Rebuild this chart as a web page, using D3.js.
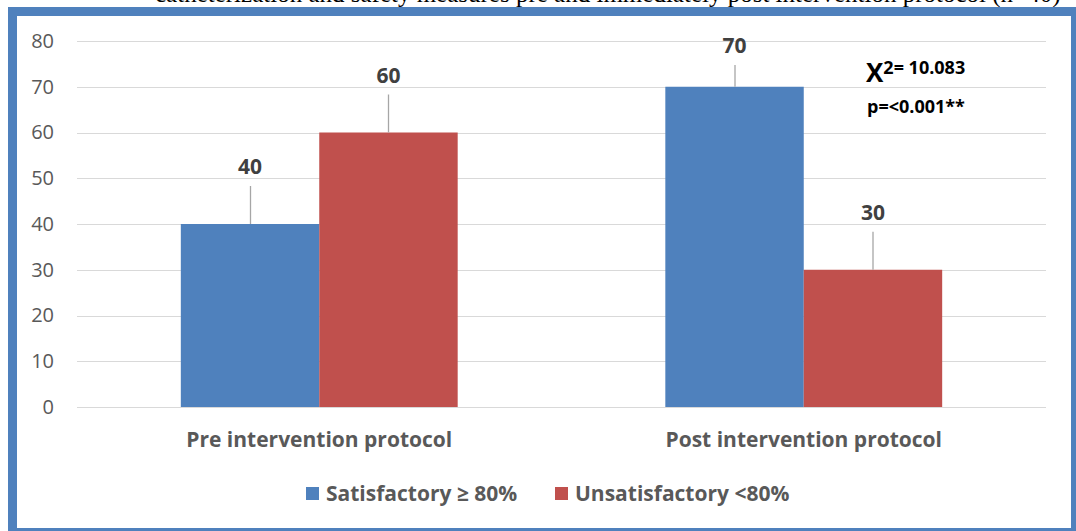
<!DOCTYPE html>
<html>
<head>
<meta charset="utf-8">
<script src="https://cdn.jsdelivr.net/npm/d3@7"></script>
<style>
  html, body { margin: 0; padding: 0; background: #fff; }
  svg { display: block; }
</style>
</head>
<body>
<svg id="chart" width="1076" height="531"></svg>
<script>
// Data
const categories = ["Pre intervention protocol", "Post intervention protocol"];
const seriesNames = ["Satisfactory \u2265 80%", "Unsatisfactory <80%"];
const satisfactory = [40, 70];
const unsatisfactory = [60, 30];
const yTicks = [0, 10, 20, 30, 40, 50, 60, 70, 80];
const captionText = "catheterization and safety measures pre and immediately post intervention protocol (n=40)";
const chiSquare = "2= 10.083";
const pValue = "p=<0.001**";

const colors = ["#4F81BD", "#C0504D"];
const font = "'Open Sans', 'Liberation Sans', sans-serif";

const rows = categories.map((c, i) => ({ category: c, values: [satisfactory[i], unsatisfactory[i]] }));

const svg = d3.select("#chart");

// Caption line running above the frame
svg.append("text")
  .attr("x", 155).attr("y", 2)
  .attr("font-family", "'Liberation Serif', 'Times New Roman', serif")
  .attr("font-size", 25)
  .attr("fill", "#000")
  .text(captionText);

// Blue frame
svg.append("rect")
  .attr("x", 12.5).attr("y", 11.5)
  .attr("width", 1063).attr("height", 521)
  .attr("fill", "#fff")
  .attr("stroke", "#4F81BD")
  .attr("stroke-width", 9);

// Scales
const x0 = d3.scaleBand().domain(categories).range([77, 1046]).paddingInner(0).paddingOuter(0);
const x1 = d3.scaleBand().domain(seriesNames).range([0, x0.bandwidth()]).paddingInner(0).paddingOuter(0.75);
const y = d3.scaleLinear().domain([0, 80]).range([407, 41]);

// Gridlines
svg.append("g").selectAll("line").data(yTicks).join("line")
  .attr("x1", 77).attr("x2", 1046)
  .attr("y1", d => Math.round(y(d)) + 0.5).attr("y2", d => Math.round(y(d)) + 0.5)
  .attr("stroke", "#D9D9D9").attr("stroke-width", 1);

// Y axis labels
const yAxis = d3.axisLeft(y).tickValues(yTicks).tickSize(0).tickPadding(0);
const gy = svg.append("g").attr("transform", "translate(54,0)").call(yAxis);
gy.select(".domain").remove();
gy.selectAll("text")
  .attr("font-family", font).attr("font-size", 20).attr("fill", "#595959");

// Bars
const groups = svg.append("g").selectAll("g").data(rows).join("g")
  .attr("transform", d => `translate(${x0(d.category)},0)`);

groups.selectAll("rect").data(d => d.values.map((v, i) => ({ key: seriesNames[i], value: v, i })))
  .join("rect")
  .attr("x", d => x1(d.key))
  .attr("width", x1.bandwidth())
  .attr("y", d => y(d.value))
  .attr("height", d => y(0) - y(d.value))
  .attr("fill", d => colors[d.i]);

// Leader lines and value labels; labels are kept inside the plot top
const labelBase = v => Math.max(y(v) - 50, y(80) + 12);
const labelGroups = groups.selectAll("g.lbl").data(d => d.values.map((v, i) => ({ key: seriesNames[i], value: v })))
  .join("g").attr("class", "lbl");

labelGroups.append("line")
  .attr("x1", d => Math.round(x1(d.key) + x1.bandwidth() / 2) + 0.5)
  .attr("x2", d => Math.round(x1(d.key) + x1.bandwidth() / 2) + 0.5)
  .attr("y1", d => y(d.value))
  .attr("y2", d => labelBase(d.value) + 12)
  .attr("stroke", "#A6A6A6").attr("stroke-width", 1.3);

labelGroups.append("text")
  .attr("x", d => x1(d.key) + x1.bandwidth() / 2)
  .attr("y", d => labelBase(d.value))
  .attr("text-anchor", "middle")
  .attr("font-family", font).attr("font-size", 21).attr("font-weight", "bold")
  .attr("fill", "#404040")
  .text(d => d.value);

// Category labels
const xAxis = d3.axisBottom(x0).tickSize(0).tickPadding(0);
const gx = svg.append("g").attr("transform", "translate(0,447)").call(xAxis);
gx.select(".domain").remove();
gx.selectAll("text")
  .attr("dy", 0)
  .attr("font-family", font).attr("font-size", 21).attr("font-weight", "bold")
  .attr("fill", "#595959");

// Statistics annotation
const stat = svg.append("text")
  .attr("x", 866).attr("y", 82)
  .attr("font-family", font).attr("font-weight", "bold").attr("fill", "#000");
stat.append("tspan").attr("font-size", 26).text("X");
stat.append("tspan").attr("font-size", 18).attr("dy", -8).text(chiSquare);

svg.append("text")
  .attr("x", 867).attr("y", 113)
  .attr("font-family", font).attr("font-weight", "bold").attr("font-size", 18)
  .attr("fill", "#000")
  .text(pValue);

// Legend
const legend = svg.append("g").selectAll("g").data(seriesNames).join("g")
  .attr("transform", (d, i) => `translate(${i === 0 ? 306 : 555},487)`);
legend.append("rect")
  .attr("width", 13).attr("height", 13)
  .attr("fill", (d, i) => colors[i]);
legend.append("text")
  .attr("x", 20).attr("y", 14)
  .attr("font-family", font).attr("font-size", 21).attr("font-weight", "bold")
  .attr("fill", "#595959")
  .text(d => d);
</script>
</body>
</html>
